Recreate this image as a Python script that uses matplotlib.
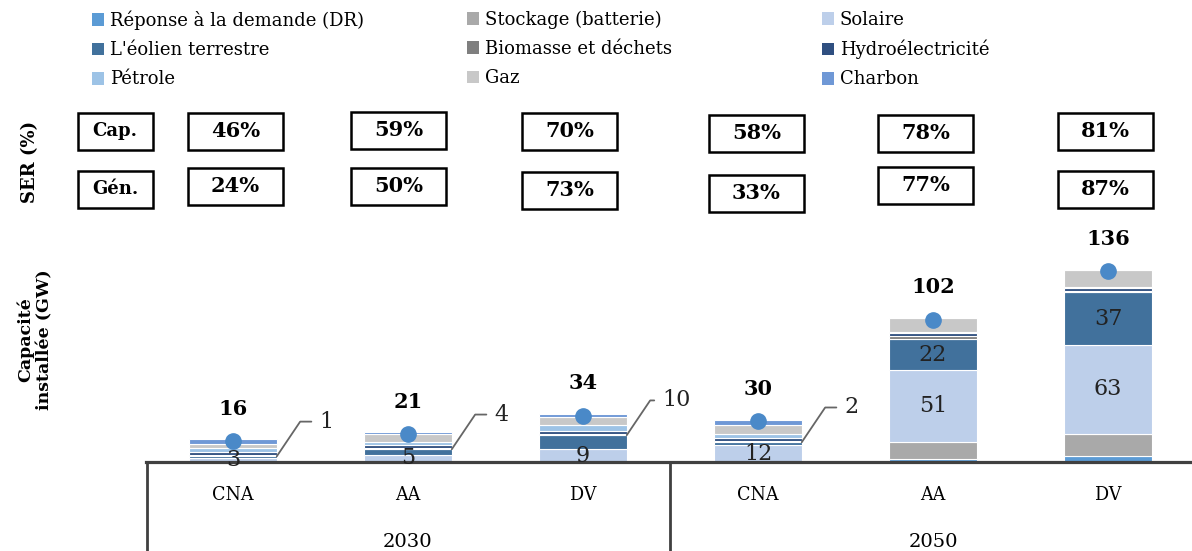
import matplotlib
matplotlib.use("Agg")
import matplotlib.pyplot as plt
import matplotlib.transforms as mtransforms
from matplotlib.patches import Rectangle
import numpy as np

plt.rcParams['font.family'] = ['DejaVu Serif']

# données
scenarios = ['CNA', 'AA', 'DV', 'CNA', 'AA', 'DV']
annees = ['2030', '2050']
series = ['Réponse à la demande (DR)', 'Stockage (batterie)', 'Solaire',
          "L'éolien terrestre", 'Biomasse et déchets', 'Hydroélectricité',
          'Pétrole', 'Gaz', 'Charbon']
dr = [0, 0, 0, 0, 2, 4]
stockage = [0, 0, 0, 0, 12, 16]
solaire = [3, 5, 9, 12, 51, 63]
eolien = [1, 4, 10, 2, 22, 37]
biomasse = [1, 1, 1, 1, 2, 1]
hydro = [2, 2, 2, 2, 2, 2]
petrole = [3, 2, 4, 3, 1, 1]
gaz = [3, 6, 6, 6, 10, 12]
charbon = [3, 1, 2, 4, 0, 0]
ser_cap = [46, 59, 70, 58, 78, 81]
ser_gen = [24, 50, 73, 33, 77, 87]

couleurs = ['#5b9bd5', '#a9a9a9', '#bdcfea', '#41719c', '#7f7f7f',
            '#2f4f80', '#9dc3e6', '#c8c8c8', '#6f98d6']

valeurs = np.array([dr, stockage, solaire, eolien, biomasse, hydro,
                    petrole, gaz, charbon], dtype=float)
totaux = valeurs.sum(axis=0)
x = np.arange(len(scenarios))

fig = plt.figure(figsize=(11.92, 5.51), dpi=100)
ax = fig.add_axes([145.5 / 1192, 89 / 551, 1050 / 1192, 212 / 551])

bas = np.zeros(len(scenarios))
barres = []
for vals, col, nom in zip(valeurs, couleurs, series):
    b = ax.bar(x, vals, 0.5, bottom=bas, color=col, edgecolor='white',
               linewidth=0.8, label=nom)
    barres.append(b)
    bas += vals

# points et totaux
ax.plot(x, totaux - 1.2, 'o', color='#4a89c8', markersize=11, zorder=5)
for xi, t in zip(x, totaux):
    ax.annotate(f'{int(t)}', (xi, t), xytext=(0, 22), textcoords='offset points',
                ha='center', va='center', fontsize=15, fontweight='bold')

# étiquettes solaire (dans les barres)
for xi, v, b0 in zip(x, solaire, np.array(dr) + np.array(stockage)):
    ax.text(xi, b0 + v / 2, f'{v}', ha='center', va='center', fontsize=16,
            color='#222222')

# étiquettes éolien
bas_eol = np.array(dr) + np.array(stockage) + np.array(solaire)
for xi, v, b0 in zip(x, eolien, bas_eol):
    if v >= 15:
        ax.text(xi, b0 + v / 2, f'{v}', ha='center', va='center', fontsize=16,
                color='#222222')
    else:
        ax.annotate(f'{v}', (xi + 0.25, b0 + v), xytext=(36, 25),
                    textcoords='offset points', ha='center', va='center',
                    fontsize=16, color='#222222',
                    arrowprops=dict(arrowstyle='-', color='#666666', lw=1.3,
                                    shrinkA=4, shrinkB=0,
                                    connectionstyle='angle,angleA=0,angleB=56,rad=0'))

ax.set_xlim(-0.5, 5.5)
ax.set_ylim(0, 150)
ax.set_xticks([])
ax.set_yticks([])
for s in ['top', 'right', 'left']:
    ax.spines[s].set_visible(False)
ax.spines['bottom'].set_color('#404040')
ax.spines['bottom'].set_linewidth(2.3)
ax.patch.set_alpha(0)

blend_ax = mtransforms.blended_transform_factory(ax.transData, ax.transAxes)
for xs in [-0.49, 2.5]:
    ax.plot([xs, xs], [0, -0.45], color='#404040', lw=2, transform=blend_ax,
            clip_on=False)
for xi, s in zip(x, scenarios):
    ax.text(xi, -33 / 212, s, transform=blend_ax, ha='center', va='center',
            fontsize=14, fontstretch='condensed')
for i, a in enumerate(annees):
    ax.text(3 * i + 1, -80 / 212, a, transform=blend_ax, ha='center',
            va='center', fontsize=14)

# cases SER
blend_fig = mtransforms.blended_transform_factory(ax.transData, fig.transFigure)
def case(xc, ypx, w, txt, fs):
    h = 37 / 551
    yc = 1 - ypx / 551
    ax.add_patch(Rectangle((xc - w / 2, yc - h / 2), w, h, transform=blend_fig,
                           fill=False, edgecolor='black', lw=1.8, clip_on=False))
    ax.text(xc, yc, txt, transform=blend_fig, ha='center', va='center',
            fontsize=fs, fontweight='bold')

dx_case = [2.5, -9, -13, -1.5, -7.5, -2.5]
y_cap = [131, 130, 131, 133, 133, 131]
y_gen = [186, 186, 190, 193, 185, 189]
case((115 - 233) / 175, 131, 75 / 175, 'Cap.', 13)
case((115 - 233) / 175, 189, 75 / 175, 'Gén.', 13)
for xi, c, g, d, yc, yg in zip(x, ser_cap, ser_gen, dx_case, y_cap, y_gen):
    case(xi + d / 175, yc, 95 / 175, f'{c}%', 15)
    case(xi + d / 175, yg, 95 / 175, f'{g}%', 15)

fig.text(30 / 1192, 1 - 162 / 551, 'SER (%)', rotation=90, ha='center',
         va='center', fontsize=13, fontweight='bold')
fig.text(35 / 1192, 1 - 340 / 551, 'Capacité\ninstallée (GW)', rotation=90,
         ha='center', va='center', fontsize=12.5, fontweight='bold',
         multialignment='center')

# légende en trois colonnes
cols_x = [88, 463, 818]
for k, xl in enumerate(cols_x):
    idx = [k, k + 3, k + 6]
    leg = fig.legend([barres[i] for i in idx], [series[i] for i in idx],
                     loc='upper left', bbox_to_anchor=(xl / 1192, 1 - 7 / 551),
                     frameon=False, fontsize=13, handlelength=0.7,
                     handleheight=0.7, handletextpad=0.3, labelspacing=0.62,
                     borderaxespad=0, borderpad=0.2)
    for h in leg.legend_handles:
        h.set_edgecolor('none')

fig.savefig('out.png', dpi=100)
